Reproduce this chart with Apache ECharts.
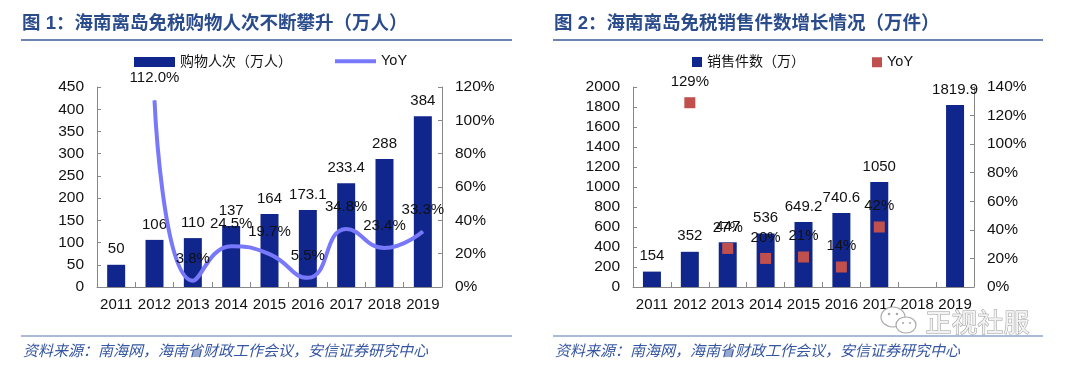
<!DOCTYPE html>
<html>
<head>
<meta charset="utf-8">
<script src="https://cdn.jsdelivr.net/npm/echarts@6/dist/echarts.min.js"></script>
<style>
html,body{margin:0;padding:0;background:#fff;}
#chart{width:1080px;height:372px;}
</style>
</head>
<body>
<div id="chart"></div>
<script>
// ---- data ----
const years = ['2011','2012','2013','2014','2015','2016','2017','2018','2019'];
// Chart 1
const visits = [50, 106, 110, 137, 164, 173.1, 233.4, 288, 384];
const visitsYoY = ['-', 112.0, 3.8, 24.5, 19.7, 5.5, 34.8, 23.4, 33.3];
// Chart 2
const items = [154, 352, 447, 536, 649.2, 740.6, 1050, '-', 1819.9];
const itemsYoY = ['-', 129, 27, 20, 21, 14, 42, '-', '-'];
// texts
const title1 = '图 1：海南离岛免税购物人次不断攀升（万人）';
const title2 = '图 2：海南离岛免税销售件数增长情况（万件）';
const sourceText = '资料来源：南海网，海南省财政工作会议，安信证券研究中心';
const name1 = '购物人次（万人）';
const name2 = '销售件数（万）';

const FONT = "'Liberation Sans','Noto Sans CJK SC',sans-serif";
const BLUE = '#10268c';
const LINEC = '#7878fa';
const REDC = '#c0504d';
const TITLEC = '#2b4c8c';
const AXISC = '#888888';

function catAxis(gi){
  return {
    type:'category', gridIndex:gi, data:years, boundaryGap:true,
    axisLine:{lineStyle:{color:AXISC,width:1}},
    axisTick:{show:true, inside:true, length:5, alignWithLabel:false, lineStyle:{color:AXISC}},
    axisLabel:{color:'#111', fontSize:15, fontFamily:FONT, margin:10, interval:0},
    splitLine:{show:false}
  };
}
function valAxis(gi, pos, max, interval, suffix){
  return {
    type:'value', gridIndex:gi, position:pos, min:0, max:max, interval:interval,
    axisLine:{show:true, lineStyle:{color:AXISC,width:1}},
    axisTick:{show:true, inside:true, length:4, lineStyle:{color:AXISC}},
    axisLabel:{color:'#111', fontSize:15.5, fontFamily:FONT, margin:13,
      formatter:function(v){return String(v)+suffix;}},
    splitLine:{show:false}
  };
}
const labelStyle = {color:'#111', fontSize:15, fontFamily:FONT};

const chart = echarts.init(document.getElementById('chart'), null, {renderer:'canvas'});
chart.setOption({
  animation:false,
  backgroundColor:'#fff',
  title:[
    {text:title1, left:22, top:15, padding:0, textStyle:{fontSize:18.5, fontWeight:'bold', color:TITLEC, fontFamily:FONT}},
    {text:title2, left:554, top:15, padding:0, textStyle:{fontSize:18.5, fontWeight:'bold', color:TITLEC, fontFamily:FONT}}
  ],
  legend:[
    {data:[name1], left:134, top:55, padding:0, itemWidth:41, itemHeight:10, icon:'rect',
     textStyle:{fontSize:14, color:'#111', fontFamily:FONT}},
    {data:['YoY'], left:335, top:54, padding:0, itemWidth:41, itemHeight:4, icon:'rect',
     textStyle:{fontSize:14.5, color:'#111', fontFamily:FONT}},
    {data:[name2], left:692, top:55, padding:0, itemWidth:10, itemHeight:10, icon:'rect',
     textStyle:{fontSize:14, color:'#111', fontFamily:FONT}},
    {data:['YoY2'], left:872, top:55, padding:0, itemWidth:10, itemHeight:10, icon:'rect',
     formatter:function(){return 'YoY';},
     textStyle:{fontSize:14.5, color:'#111', fontFamily:FONT}}
  ],
  grid:[
    {left:97, top:87, width:345, height:200},
    {left:633, top:87, width:341, height:200}
  ],
  xAxis:[catAxis(0), catAxis(1)],
  yAxis:[
    valAxis(0,'left',450,50,''),
    valAxis(0,'right',120,20,'%'),
    valAxis(1,'left',2000,200,''),
    valAxis(1,'right',140,20,'%')
  ],
  series:[
    {name:name1, type:'bar', xAxisIndex:0, yAxisIndex:0, data:visits, barWidth:18,
     itemStyle:{color:BLUE},
     label:{show:true, position:'top', distance:8, ...labelStyle}},
    {name:'YoY', type:'line', xAxisIndex:0, yAxisIndex:1, data:visitsYoY, smooth:0.5,
     symbol:'circle', symbolSize:1, showSymbol:true,
     lineStyle:{color:LINEC, width:4}, itemStyle:{color:LINEC},
     label:{show:true, position:'top', distance:14, ...labelStyle,
            formatter:function(p){return Number(p.value).toFixed(1)+'%';}}},
    {name:name2, type:'bar', xAxisIndex:1, yAxisIndex:2, data:items, barWidth:18,
     itemStyle:{color:BLUE},
     label:{show:true, position:'top', distance:8, ...labelStyle}},
    {name:'YoY2', type:'scatter', xAxisIndex:1, yAxisIndex:3, data:itemsYoY,
     symbol:'rect', symbolSize:11, itemStyle:{color:REDC, opacity:1},
     label:{show:true, position:'top', distance:8, ...labelStyle,
            formatter:function(p){return p.value+'%';}}}
  ],
  graphic:[
    {type:'line', shape:{x1:21,y1:40,x2:512,y2:40}, style:{stroke:'#3a5a9c', lineWidth:1.5}},
    {type:'line', shape:{x1:553,y1:40,x2:1043,y2:40}, style:{stroke:'#3a5a9c', lineWidth:1.5}},
    {type:'line', shape:{x1:21,y1:336,x2:512,y2:336}, style:{stroke:'#8fa2cf', lineWidth:1.5}},
    {type:'line', shape:{x1:553,y1:336,x2:1043,y2:336}, style:{stroke:'#8fa2cf', lineWidth:1.5}},
    {type:'text', left:23, top:343, style:{text:sourceText, fill:'#3556a0',
      font:"italic 15px 'Noto Sans CJK SC', sans-serif"}},
    {type:'text', left:555, top:343, style:{text:sourceText, fill:'#3556a0',
      font:"italic 15px 'Noto Sans CJK SC', sans-serif"}},
    // watermark
    {type:'ellipse', shape:{cx:893, cy:317, rx:12, ry:10}, style:{fill:'#fff', stroke:'#aaa', lineWidth:1.2}, z:100},
    {type:'ellipse', shape:{cx:906, cy:325, rx:10, ry:8}, style:{fill:'#fff', stroke:'#aaa', lineWidth:1.2}, z:101},
    {type:'circle', shape:{cx:889, cy:314, r:1.3}, style:{fill:'#aaa'}, z:100},
    {type:'circle', shape:{cx:897, cy:314, r:1.3}, style:{fill:'#aaa'}, z:100},
    {type:'circle', shape:{cx:903, cy:323, r:1.1}, style:{fill:'#aaa'}, z:102},
    {type:'circle', shape:{cx:910, cy:323, r:1.1}, style:{fill:'#aaa'}, z:102},
    {type:'text', left:925, top:309, z:100, style:{text:'正视社服', fill:'#f2f2f2', stroke:'#9a9a9a', lineWidth:1,
      font:"26px 'Noto Sans CJK SC', sans-serif"}}
  ]
});
</script>
</body>
</html>
